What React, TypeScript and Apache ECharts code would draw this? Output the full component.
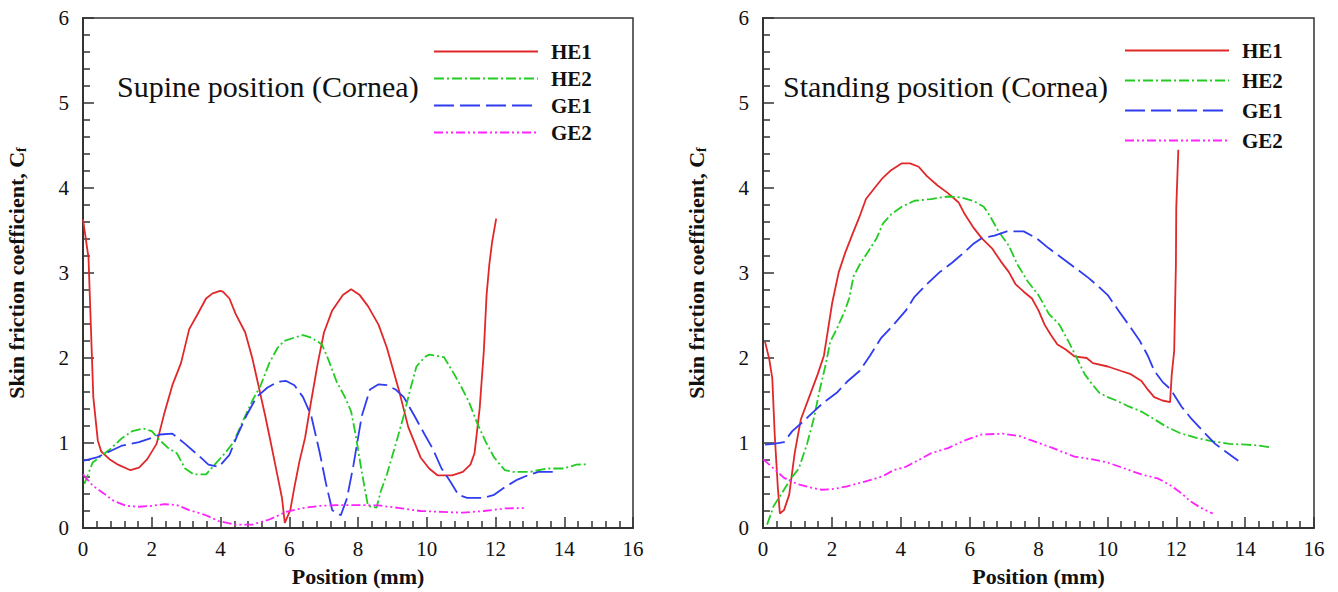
import React, { useEffect, useRef } from "react";
import * as echarts from "echarts";

const xTicks = { min: 0, max: 16, interval: 2 };
const yTicks = { min: 0, max: 6, interval: 1 };
const seriesNames = ["HE1", "HE2", "GE1", "GE2"];
const panelTitles = ["Supine position (Cornea)", "Standing position (Cornea)"];

const supineHE1 = [[0,3.63],[0.16,3.18],[0.3,1.54],[0.43,1.03],[0.53,0.9],[0.77,0.81],[1.02,0.745],[1.38,0.68],[1.63,0.71],[1.87,0.81],[2.14,0.99],[2.36,1.34],[2.6,1.68],[2.85,1.94],[3.09,2.34],[3.34,2.52],[3.58,2.7],[3.77,2.76],[3.99,2.79],[4.07,2.78],[4.26,2.7],[4.44,2.52],[4.72,2.3],[4.93,1.99],[5.08,1.72],[5.3,1.32],[5.48,0.97],[5.66,0.61],[5.79,0.35],[5.87,0.06],[6.03,0.21],[6.15,0.48],[6.3,0.79],[6.46,1.06],[6.64,1.5],[6.83,1.94],[7.01,2.3],[7.25,2.56],[7.56,2.74],[7.8,2.81],[8.05,2.74],[8.29,2.61],[8.6,2.39],[8.84,2.12],[9.03,1.85],[9.21,1.59],[9.46,1.19],[9.64,1.01],[9.82,0.83],[10.07,0.7],[10.31,0.62],[10.74,0.62],[11.05,0.66],[11.27,0.745],[11.39,0.88],[11.54,1.41],[11.66,2.08],[11.74,2.74],[11.82,3.1],[11.9,3.36],[12.02,3.64]];
const supineHE2 = [[0.04,0.52],[0.28,0.77],[0.77,0.92],[1.14,1.06],[1.44,1.14],[1.75,1.17],[2.0,1.14],[2.24,1.03],[2.48,0.94],[2.73,0.88],[2.97,0.7],[3.22,0.63],[3.58,0.63],[3.83,0.745],[4.13,0.88],[4.38,1.01],[4.62,1.23],[4.93,1.5],[5.17,1.68],[5.42,1.94],[5.66,2.12],[5.85,2.2],[6.15,2.24],[6.4,2.27],[6.64,2.24],[6.95,2.16],[7.13,1.99],[7.38,1.72],[7.62,1.54],[7.8,1.37],[7.93,1.1],[8.11,0.66],[8.29,0.26],[8.54,0.24],[8.66,0.43],[8.84,0.63],[9.15,1.06],[9.33,1.32],[9.52,1.63],[9.7,1.9],[9.94,2.01],[10.07,2.04],[10.5,2.01],[10.74,1.85],[10.98,1.68],[11.23,1.48],[11.47,1.23],[11.72,1.01],[11.96,0.83],[12.27,0.68],[12.51,0.66],[13.0,0.66],[13.49,0.7],[13.98,0.7],[14.35,0.745],[14.65,0.75]];
const supineGE1 = [[0,0.79],[0.4,0.83],[0.77,0.9],[1.14,0.97],[1.63,1.01],[2.0,1.06],[2.24,1.1],[2.6,1.11],[2.97,0.99],[3.34,0.86],[3.65,0.745],[3.95,0.72],[4.26,0.86],[4.5,1.1],[4.75,1.32],[5.05,1.54],[5.36,1.65],[5.66,1.72],[5.91,1.73],[6.15,1.68],[6.4,1.54],[6.64,1.32],[6.89,0.88],[7.07,0.52],[7.25,0.21],[7.5,0.15],[7.68,0.35],[7.87,0.745],[8.11,1.32],[8.35,1.63],[8.6,1.69],[8.84,1.68],[9.09,1.63],[9.33,1.54],[9.64,1.32],[9.94,1.1],[10.19,0.92],[10.43,0.7],[10.68,0.55],[10.92,0.39],[11.17,0.355],[11.66,0.355],[11.96,0.39],[12.27,0.48],[12.64,0.57],[13.0,0.63],[13.25,0.66],[13.74,0.66]];
const supineGE2 = [[0,0.63],[0.28,0.5],[0.59,0.41],[0.89,0.32],[1.26,0.26],[1.63,0.25],[2.0,0.26],[2.36,0.28],[2.73,0.27],[3.09,0.21],[3.58,0.15],[3.95,0.08],[4.44,0.04],[4.93,0.04],[5.42,0.1],[5.91,0.19],[6.4,0.235],[6.89,0.26],[7.38,0.27],[7.99,0.27],[8.6,0.265],[9.21,0.235],[9.82,0.2],[10.43,0.19],[11.05,0.18],[11.66,0.2],[12.27,0.23],[12.88,0.235]];

const standingHE1 = [[0.06,2.19],[0.18,1.99],[0.27,1.76],[0.34,1.1],[0.43,0.48],[0.49,0.17],[0.61,0.21],[0.76,0.39],[0.92,0.88],[1.1,1.28],[1.34,1.54],[1.59,1.81],[1.77,2.03],[1.89,2.34],[2.01,2.65],[2.2,3.01],[2.38,3.23],[2.63,3.49],[2.81,3.67],[2.99,3.87],[3.24,4.0],[3.48,4.12],[3.72,4.21],[4.03,4.29],[4.27,4.29],[4.52,4.25],[4.76,4.14],[5.07,4.03],[5.37,3.94],[5.68,3.83],[5.86,3.69],[6.1,3.54],[6.35,3.41],[6.65,3.29],[6.9,3.14],[7.14,3.01],[7.33,2.87],[7.57,2.78],[7.81,2.7],[8.0,2.56],[8.18,2.39],[8.36,2.27],[8.55,2.16],[8.79,2.1],[9.04,2.02],[9.4,2.0],[9.58,1.94],[10.01,1.9],[10.38,1.85],[10.68,1.81],[10.99,1.73],[11.17,1.63],[11.36,1.54],[11.6,1.5],[11.82,1.48],[11.87,1.81],[11.94,2.08],[11.99,3.1],[12.0,3.76],[12.06,4.45]];
const standingHE2 = [[0.12,0.04],[0.31,0.26],[0.55,0.41],[0.79,0.57],[1.04,0.7],[1.28,0.99],[1.47,1.28],[1.65,1.63],[1.83,1.94],[1.95,2.19],[2.14,2.34],[2.38,2.56],[2.5,2.7],[2.63,2.96],[2.81,3.1],[3.05,3.25],[3.3,3.41],[3.48,3.58],[3.72,3.69],[4.03,3.78],[4.4,3.85],[4.88,3.87],[5.37,3.9],[5.74,3.89],[6.1,3.85],[6.41,3.78],[6.59,3.67],[6.84,3.49],[7.14,3.32],[7.39,3.1],[7.69,2.9],[8.0,2.74],[8.3,2.52],[8.61,2.39],[8.85,2.21],[9.1,2.01],[9.34,1.81],[9.58,1.68],[9.77,1.59],[10.01,1.54],[10.26,1.5],[10.62,1.43],[10.99,1.37],[11.36,1.28],[11.72,1.19],[12.09,1.12],[12.58,1.06],[13.06,1.02],[13.55,0.99],[14.04,0.98],[14.41,0.97],[14.71,0.95]];
const standingGE1 = [[0.06,0.98],[0.31,0.99],[0.61,1.01],[0.85,1.14],[1.16,1.25],[1.47,1.37],[1.77,1.48],[2.14,1.59],[2.44,1.72],[2.81,1.85],[3.11,2.03],[3.42,2.23],[3.79,2.39],[4.15,2.56],[4.4,2.72],[4.76,2.87],[5.13,3.01],[5.49,3.12],[5.86,3.25],[6.1,3.34],[6.35,3.41],[6.72,3.44],[7.08,3.49],[7.57,3.49],[7.94,3.41],[8.3,3.29],[8.67,3.18],[9.1,3.05],[9.46,2.94],[9.77,2.83],[10.01,2.74],[10.32,2.56],[10.62,2.39],[10.93,2.21],[11.17,2.03],[11.36,1.85],[11.6,1.72],[11.84,1.63],[12.15,1.43],[12.45,1.28],[12.82,1.12],[13.13,0.99],[13.43,0.9],[13.8,0.79]];
const standingGE2 = [[0,0.81],[0.31,0.7],[0.61,0.59],[0.98,0.52],[1.34,0.48],[1.71,0.45],[2.08,0.46],[2.44,0.49],[2.81,0.53],[3.17,0.57],[3.48,0.61],[3.79,0.68],[4.15,0.72],[4.52,0.8],[4.88,0.88],[5.37,0.94],[5.86,1.03],[6.35,1.1],[6.96,1.11],[7.45,1.08],[7.94,1.01],[8.42,0.94],[9.04,0.84],[9.52,0.81],[10.01,0.77],[10.5,0.7],[10.99,0.63],[11.48,0.58],[11.84,0.5],[12.15,0.41],[12.39,0.32],[12.7,0.24],[13.06,0.17]];

const panels = [
  [supineHE1, supineHE2, supineGE1, supineGE2],
  [standingHE1, standingHE2, standingGE1, standingGE2],
];

const FONT = "'Liberation Serif', 'Times New Roman', serif";
const colors = ["#e0282a", "#22cc22", "#2f3cf0", "#ff22ff"];
const dashes: any[] = ["solid", [10, 3, 2, 3], [20, 6], [9, 3, 2, 3, 2, 3]];

export default function App() {
  const ref = useRef<HTMLDivElement>(null);
  useEffect(() => {
    if (!ref.current) return;
    const chart = echarts.init(ref.current, null, { renderer: "svg" });
    const grids = [
      { left: 83, top: 18, width: 550, height: 510 },
      { left: 763, top: 18, width: 551, height: 510 },
    ];
    const axisCommon = {
      axisLine: { show: true, lineStyle: { color: "#333", width: 2 } },
      axisTick: { show: true, inside: true, length: 11, lineStyle: { color: "#333", width: 1.5 } },
      minorTick: { show: true, splitNumber: 5, length: 7, lineStyle: { color: "#333", width: 1.5 } },
      splitLine: { show: false },
      axisLabel: { fontFamily: FONT, fontSize: 21, color: "#111" },
    };
    const xAxis = grids.map((_, i) => ({
      type: "value",
      gridIndex: i,
      ...xTicks,
      ...axisCommon,
      axisLabel: { ...axisCommon.axisLabel, margin: 10 },
      name: "Position (mm)",
      nameLocation: "middle",
      nameGap: 37,
      nameTextStyle: { fontFamily: FONT, fontSize: 22, fontWeight: "bold", color: "#111" },
    }));
    const yAxis = grids.map((_, i) => ({
      type: "value",
      gridIndex: i,
      ...yTicks,
      ...axisCommon,
      axisLabel: { ...axisCommon.axisLabel, margin: 14 },
      name: "Skin friction coefficient, C{sub|f}",
      nameLocation: "middle",
      nameGap: 55,
      nameTextStyle: {
        fontFamily: FONT,
        fontSize: 22,
        fontWeight: "bold",
        color: "#111",
        rich: {
          sub: { fontFamily: FONT, fontSize: 14, fontWeight: "bold", color: "#111", verticalAlign: "bottom", padding: [9, 0, 0, 0] },
        },
      },
    }));
    const series: any[] = [];
    panels.forEach((data, p) => {
      data.forEach((d, k) => {
        series.push({
          type: "line",
          name: seriesNames[k],
          xAxisIndex: p,
          yAxisIndex: p,
          data: d,
          symbol: "none",
          showSymbol: false,
          smooth: false,
          lineStyle: { color: colors[k], width: 1.8, type: dashes[k] },
          itemStyle: { color: colors[k] },
          emphasis: { disabled: true },
        });
      });
    });
    const legendCommon = {
      orient: "vertical",
      data: seriesNames,
      itemWidth: 104,
      itemHeight: 14,
      selectedMode: false,
      itemStyle: { opacity: 0, borderWidth: 0 },
      textStyle: { fontFamily: FONT, fontSize: 21, fontWeight: "bold", color: "#111", padding: [0, 0, 0, 8] },
    };
    chart.setOption({
      animation: false,
      backgroundColor: "#fff",
      grid: grids.map((g) => ({ ...g, show: true, borderColor: "#333", borderWidth: 1.5, backgroundColor: "transparent" })),
      xAxis,
      yAxis,
      legend: [
        { ...legendCommon, left: 428, top: 36, itemGap: 6 },
        { ...legendCommon, left: 1119, top: 35, itemGap: 9 },
      ],
      graphic: [
        { type: "text", left: 117, top: 71, style: { text: panelTitles[0], font: `30px ${FONT}`, fill: "#111" } },
        { type: "text", left: 783, top: 71, style: { text: panelTitles[1], font: `30px ${FONT}`, fill: "#111" } },
      ],
      series,
    });
    return () => chart.dispose();
  }, []);
  return <div ref={ref} style={{ position: "fixed", left: 0, top: 0, width: 1338, height: 592 }} />;
}
